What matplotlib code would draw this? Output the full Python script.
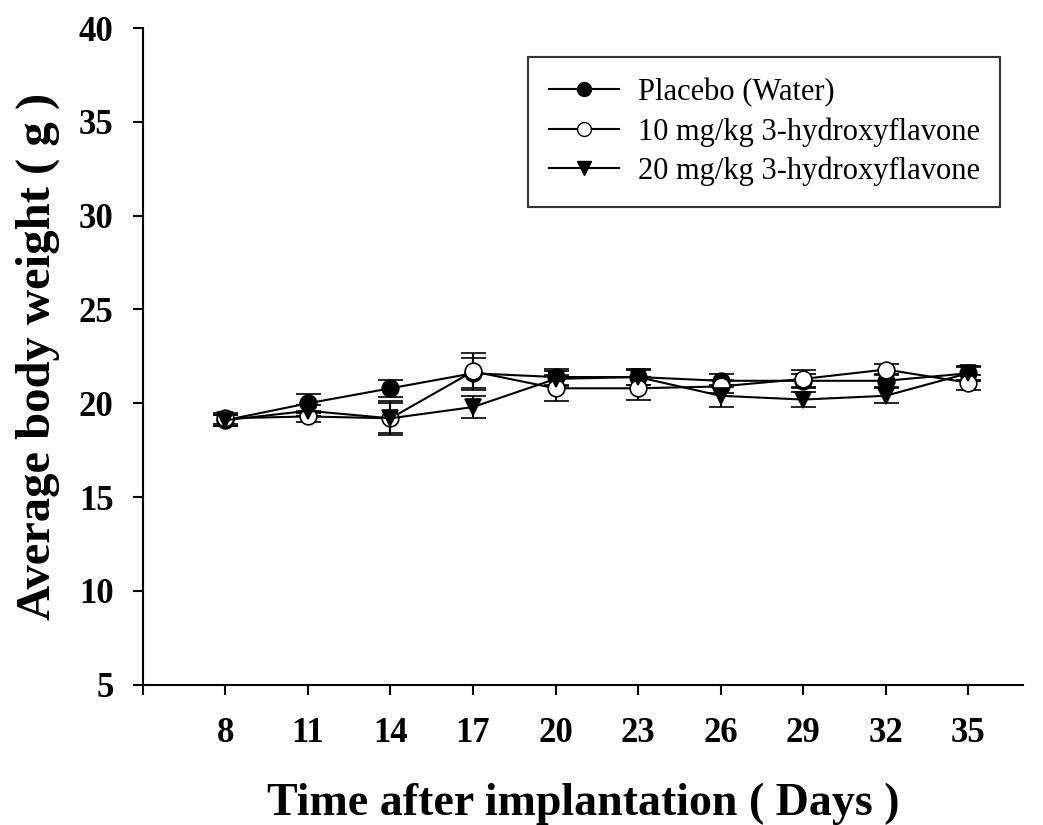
import matplotlib
matplotlib.use("Agg")
import matplotlib.pyplot as plt
from matplotlib.lines import Line2D

days = [8, 11, 14, 17, 20, 23, 26, 29, 32, 35]
placebo = [19.1, 20.0, 20.8, 21.6, 21.4, 21.4, 21.2, 21.2, 21.2, 21.6]
placebo_err = [0.3, 0.5, 0.45, 0.8, 0.45, 0.45, 0.35, 0.35, 0.35, 0.35]
dose10 = [19.2, 19.3, 19.2, 21.7, 20.8, 20.8, 20.9, 21.3, 21.8, 21.1]
dose10_err = [0.3, 0.3, 0.8, 1.0, 0.7, 0.6, 0.35, 0.5, 0.3, 0.4]
dose20 = [19.1, 19.6, 19.2, 19.8, 21.3, 21.4, 20.4, 20.2, 20.4, 21.6]
dose20_err = [0.3, 0.3, 0.9, 0.6, 0.4, 0.4, 0.6, 0.4, 0.4, 0.4]
labels = ["Placebo (Water)", "10 mg/kg 3-hydroxyflavone", "20 mg/kg 3-hydroxyflavone"]

fig = plt.figure(figsize=(10.43, 8.25), dpi=100)
ax = fig.add_axes([0.137, 0.170, 0.844, 0.796])

serif = ["Liberation Serif", "DejaVu Serif"]

styles = [
    dict(marker="o", mfc="black", mec="black"),
    dict(marker="o", mfc="white", mec="black"),
    dict(marker="v", mfc="black", mec="black"),
]
series = [(placebo, placebo_err), (dose10, dose10_err), (dose20, dose20_err)]
for (vals, errs), st in zip(series, styles):
    ax.errorbar(days, vals, yerr=errs, color="black", lw=1.5, elinewidth=1.5,
                capsize=9, capthick=1.5, ms=12, mew=1.2, zorder=3, **st)

ax.set_xlim(5, 37)
ax.set_ylim(5, 40)
ax.set_xticks([5] + days)
ax.set_xticklabels([""] + [str(d) for d in days])
ax.set_yticks(range(5, 41, 5))
for s in ["top", "right"]:
    ax.spines[s].set_visible(False)
for s in ["left", "bottom"]:
    ax.spines[s].set_linewidth(1.5)
ax.tick_params(direction="out", length=7, width=1.5)
ax.tick_params(axis="y", pad=14)
ax.tick_params(axis="x", pad=16)
for lab in ax.get_xticklabels() + ax.get_yticklabels():
    lab.set_fontfamily(serif)
    lab.set_fontweight("bold")
    lab.set_fontsize(25)

ax.set_xlabel("Time after implantation ( Days )", fontfamily=serif,
              fontweight="bold", fontsize=33, labelpad=24)
ax.set_ylabel("Average body weight ( g )", fontfamily=serif,
              fontweight="bold", fontsize=35, labelpad=14)

handles = [Line2D([0], [0], color="black", lw=1.5, ms=10, **st) for st in styles]
leg = ax.legend(handles, labels, loc="upper right", bbox_to_anchor=(0.974, 0.956),
                prop={"family": serif, "size": 22}, frameon=True, fancybox=False,
                edgecolor="black", handlelength=2.3, handletextpad=0.6,
                borderpad=0.68, labelspacing=0.33, borderaxespad=0)
leg.get_frame().set_linewidth(1.5)

fig.savefig("out.png", dpi=100)
